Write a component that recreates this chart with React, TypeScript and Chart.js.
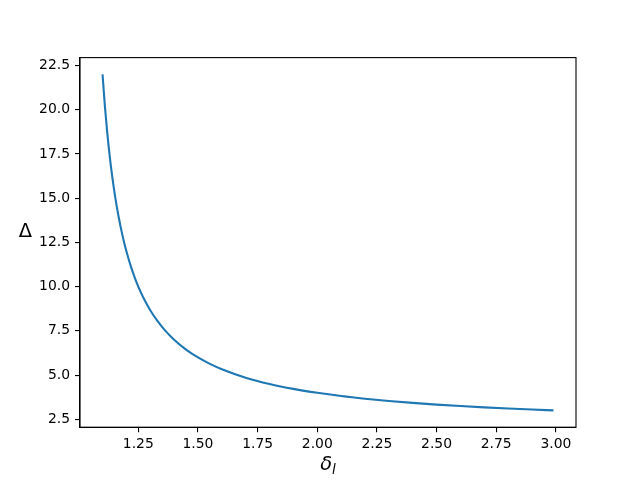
import React, { useEffect, useRef } from "react";
import { Chart, registerables } from "chart.js";

Chart.register(...registerables);

const deltaL: number[] = [
  1.1, 1.11, 1.12, 1.13, 1.14, 1.15, 1.16, 1.17, 1.18, 1.19, 1.2, 1.22, 1.24, 1.26, 1.28, 1.3,
  1.33, 1.36, 1.4, 1.45, 1.5, 1.55, 1.6, 1.7, 1.8, 1.9, 2.0, 2.1, 2.2, 2.3, 2.4, 2.5, 2.6, 2.7,
  2.8, 2.9, 2.99,
];
const bigDelta: number[] = [
  22.0, 20.182, 18.667, 17.385, 16.286, 15.333, 14.5, 13.765, 13.111, 12.526, 12.0, 11.091,
  10.333, 9.692, 9.143, 8.667, 8.061, 7.556, 7.0, 6.444, 6.0, 5.636, 5.333, 4.857, 4.5, 4.222,
  4.0, 3.818, 3.667, 3.538, 3.429, 3.333, 3.25, 3.176, 3.111, 3.053, 3.005,
];
const xTicks: number[] = [1.25, 1.5, 1.75, 2.0, 2.25, 2.5, 2.75, 3.0];
const yTicks: number[] = [2.5, 5.0, 7.5, 10.0, 12.5, 15.0, 17.5, 20.0, 22.5];

export default function App() {
  const ref = useRef<HTMLCanvasElement | null>(null);
  useEffect(() => {
    document.body.style.margin = "0";
    const canvas = ref.current!;
    const xMin = 1.1, xMax = 2.99;
    const xm = (xMax - xMin) * 0.05;
    const yMin = Math.min(...bigDelta), yMax = Math.max(...bigDelta);
    const ym = (yMax - yMin) * 0.05;
    const font = { family: "DejaVu Sans", size: 13.9 };
    const framePlugin = {
      id: "frame",
      afterDraw(chart: any) {
        const { ctx, chartArea: a } = chart;
        ctx.save();
        ctx.strokeStyle = "#000";
        ctx.lineWidth = 1.1;
        ctx.strokeRect(a.left, a.top, a.right - a.left, a.bottom - a.top);
        ctx.fillStyle = "#000";
        // y label
        ctx.font = "19.4px 'DejaVu Sans'";
        ctx.textAlign = "center";
        ctx.textBaseline = "alphabetic";
        ctx.fillText("Δ", 25.5, 237);
        // x label δ_l
        const main = "italic 19.4px 'DejaVu Sans'";
        const sub = "italic 13.6px 'DejaVu Sans'";
        ctx.font = main;
        const w1 = ctx.measureText("δ").width;
        ctx.font = sub;
        const w2 = ctx.measureText("l").width;
        const cx = (a.left + a.right) / 2;
        const x0 = cx - (w1 + w2) / 2;
        ctx.textAlign = "left";
        ctx.font = main;
        ctx.fillText("δ", x0, 470);
        ctx.font = sub;
        ctx.fillText("l", x0 + w1, 473.5);
        ctx.restore();
      },
    };
    const chart = new Chart(canvas, {
      type: "line",
      data: {
        datasets: [
          {
            data: deltaL.map((x, i) => ({ x, y: bigDelta[i] })),
            borderColor: "#1f77b4",
            borderWidth: 2.1,
            pointRadius: 0,
            fill: false,
            cubicInterpolationMode: "monotone",
          },
        ],
      },
      options: {
        animation: false,
        responsive: false,
        events: [],
        layout: { padding: { top: 57.6, right: 64, left: 0, bottom: 0 } },
        plugins: { legend: { display: false }, tooltip: { enabled: false } },
        scales: {
          x: {
            type: "linear",
            min: xMin - xm,
            max: xMax + xm,
            afterFit: (s: any) => { s.height = 52.8; },
            afterBuildTicks: (s: any) => { s.ticks = xTicks.map((v) => ({ value: v })); },
            grid: { drawOnChartArea: false, drawTicks: true, tickLength: 5, color: "#000", lineWidth: 1.1 },
            border: { display: true, color: "#000", width: 1.1 },
            ticks: { color: "#000", font, padding: 4, maxRotation: 0, callback: (v: any) => Number(v).toFixed(2) },
          },
          y: {
            type: "linear",
            min: yMin - ym,
            max: yMax + ym,
            afterFit: (s: any) => { s.width = 80; },
            afterBuildTicks: (s: any) => { s.ticks = yTicks.map((v) => ({ value: v })); },
            grid: { drawOnChartArea: false, drawTicks: true, tickLength: 5, color: "#000", lineWidth: 1.1 },
            border: { display: true, color: "#000", width: 1.1 },
            ticks: { color: "#000", font, padding: 5, callback: (v: any) => Number(v).toFixed(1) },
          },
        },
      } as any,
      plugins: [framePlugin],
    });
    return () => chart.destroy();
  }, []);
  return (
    <div style={{ position: "absolute", left: 0, top: 0, width: 640, height: 480, background: "#fff" }}>
      <canvas ref={ref} width={640} height={480} />
    </div>
  );
}
